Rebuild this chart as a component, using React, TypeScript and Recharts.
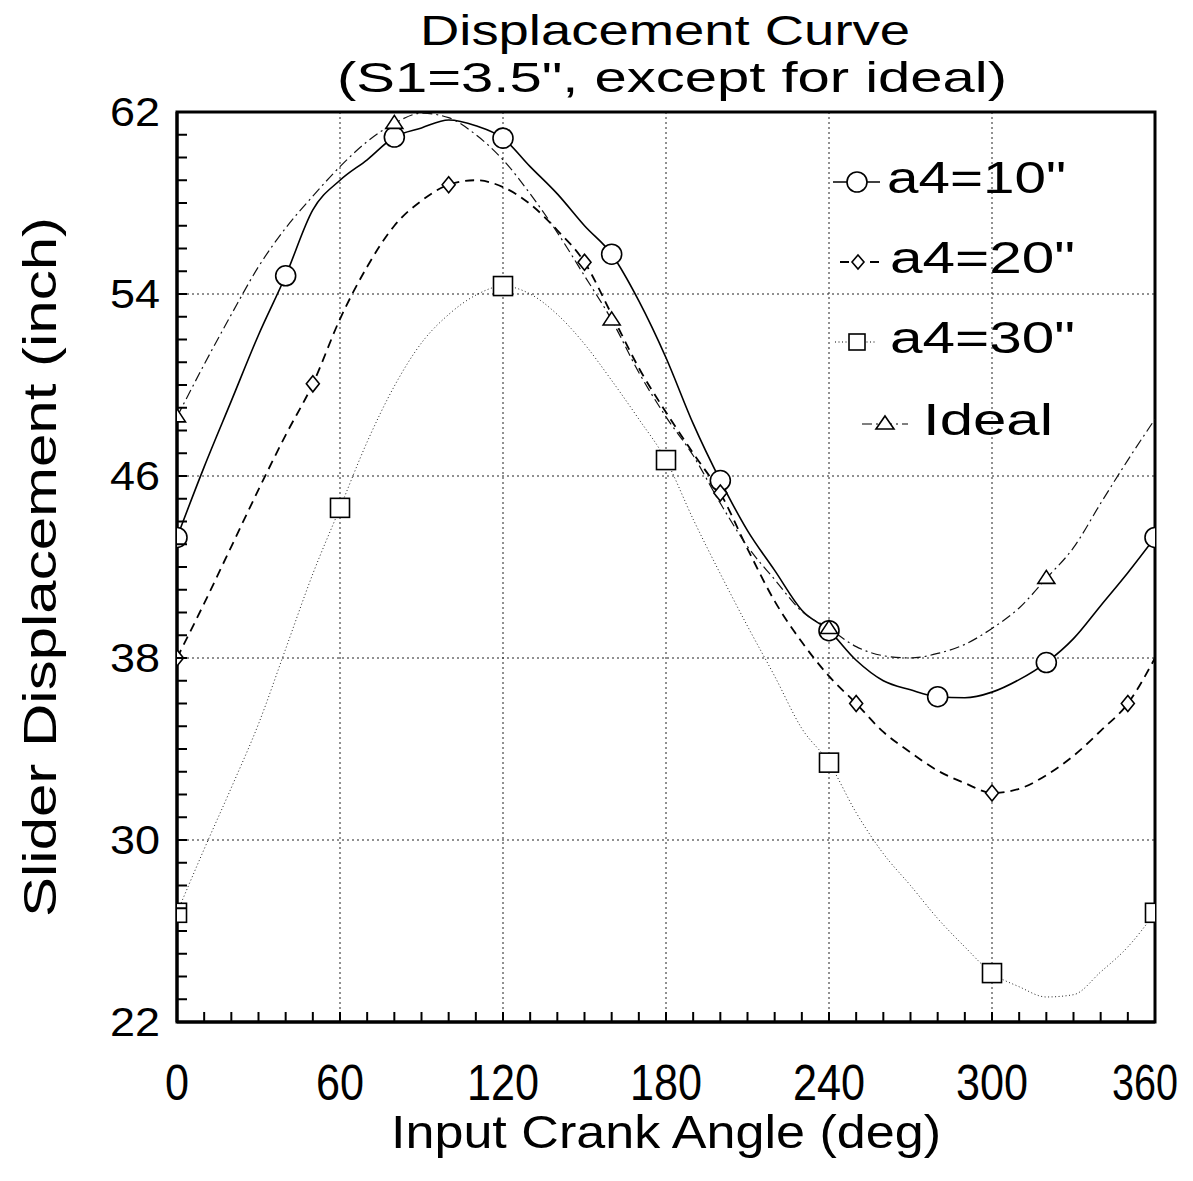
import { CartesianGrid, ComposedChart, Label, Legend, Line, ReferenceArea, XAxis, YAxis } from "recharts";

// crank angle (deg), one row every 10 degrees
const angles = [
  0, 10, 20, 30, 40, 50, 60, 70, 80, 90, 100, 110, 120, 130, 140, 150, 160, 170, 180,
  190, 200, 210, 220, 230, 240, 250, 260, 270, 280, 290, 300, 310, 320, 330, 340, 350, 360
];

// slider displacement (inch)
const dispA10 = [
  43.3, 46.4, 49.3, 52.2, 54.8, 57.7, 59.0, 59.9, 60.9, 61.3, 61.65, 61.4, 60.85, 59.6, 58.4, 57.0, 55.75, 53.7, 51.2,
  48.3, 45.8, 43.6, 41.85, 40.1, 39.2, 37.9, 37.0, 36.6, 36.3, 36.25, 36.5, 37.05, 37.8, 38.85, 40.3, 41.75, 43.3
];
const dispA20 = [
  38.0, 40.4, 42.9, 45.4, 47.8, 50.05, 52.9, 55.2, 57.0, 58.1, 58.8, 59.0, 58.7, 57.95, 56.8, 55.4, 53.1, 50.75, 48.8,
  47.0, 45.25, 42.8, 40.5, 38.7, 37.2, 36.0, 34.75, 33.85, 33.05, 32.5, 32.07, 32.25, 32.85, 33.7, 34.8, 36.0, 38.0
];
const dispA30 = [
  26.8, 29.6, 32.3, 35.1, 38.4, 41.7, 44.6, 47.5, 49.95, 51.85, 53.1, 53.95, 54.35, 54.0, 53.1, 51.8, 50.2, 48.5, 46.7,
  44.1, 41.7, 39.4, 37.2, 34.9, 33.4, 31.2, 29.4, 28.0, 26.55, 25.3, 24.15, 23.55, 23.1, 23.2, 24.2, 25.3, 26.8
];
const dispIdeal = [
  48.6, 50.9, 53.1, 55.2, 56.9, 58.3, 59.6, 60.7, 61.5, 61.95, 61.75, 61.0, 59.9, 58.4, 56.7, 54.8, 52.86, 50.55, 48.6,
  46.9, 44.8, 42.9, 41.45, 40.05, 39.3, 38.5, 38.1, 38.0, 38.2, 38.6, 39.3, 40.2, 41.5, 42.85, 44.8, 46.7, 48.5
];

const xLabels = [0, 60, 120, 180, 240, 300, 360];
const yLabels = [22, 30, 38, 46, 54, 62];
const xMinor = Array.from({ length: 37 }, (_, i) => i * 10);
const yMinor = Array.from({ length: 41 }, (_, i) => 22 + i);

const FONT = "'Liberation Sans', Arial, sans-serif";

const rows = angles.map((deg, i) => ({
  deg,
  a10: dispA10[i],
  a20: dispA20[i],
  a30: dispA30[i],
  ideal: dispIdeal[i]
}));

type Shape = "circle" | "diamond" | "square" | "triangle";

const series: {
  key: string;
  name: string;
  every: number;
  shape: Shape;
  width: number;
  dash?: string;
  color: string;
}[] = [
  { key: "a10", name: "a4=10\"", every: 4, shape: "circle", width: 1.6, color: "#000" },
  { key: "a20", name: "a4=20\"", every: 5, shape: "diamond", width: 1.8, dash: "9 6", color: "#000" },
  { key: "a30", name: "a4=30\"", every: 6, shape: "square", width: 1, dash: "1 2.5", color: "#222" },
  { key: "ideal", name: "Ideal", every: 8, shape: "triangle", width: 1.2, dash: "10 4 2 4", color: "#111" }
];

const Marker = ({ shape, cx, cy, big = true }: { shape: Shape; cx: number; cy: number; big?: boolean }) => {
  const common = { fill: "#fff", stroke: "#000", strokeWidth: 1.6 };
  if (shape === "circle") return <circle cx={cx} cy={cy} r={10} {...common} />;
  if (shape === "square") {
    const h = big ? 9.5 : 8;
    return <rect x={cx - h} y={cy - h} width={h * 2} height={h * 2} {...common} />;
  }
  if (shape === "diamond") {
    const w = big ? 6.5 : 6;
    const h = big ? 8 : 7;
    return <path d={`M${cx},${cy - h}L${cx + w},${cy}L${cx},${cy + h}L${cx - w},${cy}Z`} {...common} />;
  }
  const w = big ? 8.5 : 9;
  return <path d={`M${cx},${cy - 8}L${cx + w},${cy + 5}L${cx - w},${cy + 5}Z`} {...common} />;
};

const makeDot = (every: number, shape: Shape) => (props: any) => {
  const { cx, cy, index } = props;
  if (index % every !== 0 || cx == null || cy == null) return <g key={`n-${shape}-${index}`} />;
  return (
    <g key={`m-${shape}-${index}`}>
      <Marker shape={shape} cx={cx} cy={cy} />
    </g>
  );
};

const XTick = (props: any) => {
  const { x, y, payload } = props;
  const v = payload.value as number;
  const text = String(v);
  // last label is pulled in a little so it stays on the page
  const lx = v === 360 ? x - 10 : x;
  const len = v === 360 ? 66 : text.length * 24;
  return (
    <g>
      <line x1={x} y1={y} x2={x} y2={y - 10} stroke="#000" strokeWidth={2} />
      {xLabels.includes(v) && (
        <text
          x={lx}
          y={y + 78}
          textAnchor="middle"
          fontSize={50}
          fontFamily={FONT}
          fill="#000"
          textLength={len}
          lengthAdjust="spacingAndGlyphs"
        >
          {text}
        </text>
      )}
    </g>
  );
};

const YTick = (props: any) => {
  const { x, y, payload } = props;
  const v = payload.value as number;
  return (
    <g>
      <line x1={x} y1={y} x2={x + 10} y2={y} stroke="#000" strokeWidth={2} />
      {yLabels.includes(v) && (
        <text
          x={x - 17}
          y={y + 14}
          textAnchor="end"
          fontSize={40}
          fontFamily={FONT}
          fill="#000"
          textLength={50}
          lengthAdjust="spacingAndGlyphs"
        >
          {v}
        </text>
      )}
    </g>
  );
};

const XTitle = (props: any) => {
  const vb = props.viewBox;
  return (
    <text
      x={vb.x + vb.width / 2}
      y={vb.y + 126}
      textAnchor="middle"
      fontSize={46}
      fontFamily={FONT}
      fill="#000"
      textLength={550}
      lengthAdjust="spacingAndGlyphs"
    >
      Input Crank Angle (deg)
    </text>
  );
};

const YTitle = (props: any) => {
  const vb = props.viewBox;
  const cy = vb.y + vb.height / 2;
  return (
    <text
      transform={`translate(48, ${cy}) rotate(-90)`}
      x={0}
      y={0}
      textAnchor="middle"
      fontSize={46}
      fontFamily={FONT}
      fill="#000"
      textLength={700}
      lengthAdjust="spacingAndGlyphs"
    >
      Slider Displacement (inch)
    </text>
  );
};

// legend rows in local px: marker centre, line span, text start, text width
const legendRows = [
  { y: 32, x1: 8, x2: 55, cx: 32, tx: 62, tw: 179 },
  { y: 112, x1: 15, x2: 55, cx: 33, tx: 65, tw: 185 },
  { y: 192, x1: 10, x2: 52, cx: 32, tx: 65, tw: 185 },
  { y: 274, x1: 37, x2: 83, cx: 60, tx: 98, tw: 130 }
];

const LegendBox = () => (
  <svg width={300} height={320} style={{ display: "block", overflow: "visible" }}>
    {series.map((s, i) => {
      const r = legendRows[i];
      return (
        <g key={s.key}>
          <line x1={r.x1} y1={r.y} x2={r.x2} y2={r.y} stroke="#000" strokeWidth={s.width} strokeDasharray={s.dash} />
          <Marker shape={s.shape} cx={r.cx} cy={r.y} big={false} />
          <text
            x={r.tx}
            y={r.y + 11}
            fontSize={45}
            fontFamily={FONT}
            fill="#000"
            textLength={r.tw}
            lengthAdjust="spacingAndGlyphs"
          >
            {s.name}
          </text>
        </g>
      );
    })}
  </svg>
);

export default function App() {
  return (
    <div style={{ position: "relative", width: 1177, height: 1165, background: "#fff" }}>
      <style>{`.recharts-surface { overflow: visible !important; }`}</style>
      <svg width={1177} height={104} style={{ position: "absolute", left: 0, top: -8 }}>
        <text
          x={657}
          y={45}
          textAnchor="middle"
          fontSize={42}
          fontFamily={FONT}
          fill="#000"
          textLength={490}
          lengthAdjust="spacingAndGlyphs"
        >
          Displacement Curve
        </text>
        <text
          x={664}
          y={92}
          textAnchor="middle"
          fontSize={42}
          fontFamily={FONT}
          fill="#000"
          textLength={670}
          lengthAdjust="spacingAndGlyphs"
        >
          (S1=3.5", except for ideal)
        </text>
      </svg>
      <ComposedChart
        width={1177}
        height={1165}
        data={rows}
        margin={{ top: 104, right: 30, bottom: 0, left: 0 }}
        style={{ position: "absolute", left: 0, top: 0 }}
      >
        <CartesianGrid
          horizontalValues={[30, 38, 46, 54]}
          verticalValues={[60, 120, 180, 240, 300]}
          stroke="#222"
          strokeWidth={1}
          strokeDasharray="2 3"
        />
        <XAxis
          dataKey="deg"
          type="number"
          domain={[0, 360]}
          ticks={xMinor}
          interval={0}
          tickLine={false}
          tickSize={0}
          tickMargin={0}
          tick={XTick}
          axisLine={{ stroke: "#000", strokeWidth: 3 }}
          height={151}
          allowDataOverflow
        >
          <Label content={XTitle} />
        </XAxis>
        <YAxis
          type="number"
          domain={[22, 62]}
          ticks={yMinor}
          interval={0}
          tickLine={false}
          tickSize={0}
          tickMargin={0}
          tick={YTick}
          axisLine={{ stroke: "#000", strokeWidth: 3 }}
          width={169}
          allowDataOverflow
        >
          <Label content={YTitle} />
        </YAxis>
        <ReferenceArea x1={0} x2={360} y1={22} y2={62} fill="none" fillOpacity={0} stroke="#000" strokeWidth={3} />
        {series.map((s) => (
          <Line
            key={s.key}
            dataKey={s.key}
            name={s.name}
            type="monotone"
            stroke={s.color}
            strokeWidth={s.width}
            strokeDasharray={s.dash}
            dot={makeDot(s.every, s.shape)}
            activeDot={false}
            isAnimationActive={false}
          />
        ))}
        <Legend
          layout="vertical"
          align="center"
          verticalAlign="middle"
          content={() => <LegendBox />}
          wrapperStyle={{ position: "absolute", left: 817, top: 142, width: 300, height: 320 }}
        />
      </ComposedChart>
    </div>
  );
}
